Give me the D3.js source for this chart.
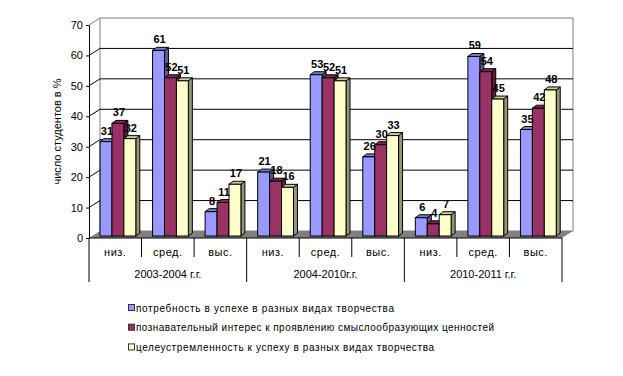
<!DOCTYPE html>
<html>
<head>
<meta charset="utf-8">
<script src="https://cdn.jsdelivr.net/npm/d3@7"></script>
<style>
  body { margin: 0; background: #fff; }
  svg { display: block; font-family: Arial, "Liberation Sans", sans-serif; }
</style>
</head>
<body>
<div id="chart"></div>
<script>
// данные
const levels = ["низ.", "сред.", "выс."]
const periods = ["2003-2004 г.г.", "2004-2010г.г.", "2010-2011 г.г."]
const seriesNames = [
  "потребность в успехе в разных видах творчества",
  "познавательный интерес к проявлению смыслообразующих ценностей",
  "целеустремленность к успеху в разных видах творчества",
]
const need = [31, 61, 8, 21, 53, 26, 6, 59, 35]
const interest = [37, 52, 11, 18, 52, 30, 4, 54, 42]
const purpose = [32, 51, 17, 16, 51, 33, 7, 45, 48]
const yTicks = [0, 10, 20, 30, 40, 50, 60, 70]

const series = [need, interest, purpose]
const colors = ["#9999ff", "#993366", "#ffffcc"]
const legendWidths = [258, 358, 298]  // ширина подписей легенды как в Excel

const width = 623, height = 376
const wallDx = 11, wallDy = -7   // глубина стенок
const barDx = 4, barDy = -3      // глубина столбиков
const barShiftY = -2

const svg = d3.select("#chart").append("svg")
  .attr("width", width)
  .attr("height", height)

const cats = d3.range(periods.length * levels.length)

const x = d3.scaleBand().domain(cats).range([89, 562])
const y = d3.scaleLinear().domain([0, 70]).range([238, 25])
const xs = d3.scaleBand().domain(d3.range(series.length)).range([11, 11 + 35.8])

// стенки
const x0 = x.range()[0], x1 = x.range()[1]
svg.append("polygon")
  .attr("points", [[x0, y(0)], [x0 + wallDx, y(0) + wallDy], [x1 + wallDx, y(0) + wallDy], [x1, y(0)]].join(" "))
  .attr("fill", "#808080")

svg.append("rect")
  .attr("x", x0 + wallDx).attr("y", y(70) + wallDy)
  .attr("width", x1 - x0).attr("height", y(0) - y(70))
  .attr("fill", "none").attr("stroke", "#808080")
svg.append("line")
  .attr("x1", x0).attr("y1", y(70)).attr("x2", x0 + wallDx).attr("y2", y(70) + wallDy)
  .attr("stroke", "#808080")

const grid = svg.append("g")
grid.selectAll("path")
  .data(yTicks.filter(d => d > 0 && d < 70))
  .join("path")
    .attr("d", d => `M${x0},${y(d)}L${x0 + wallDx},${y(d) + wallDy}L${x1 + wallDx},${y(d) + wallDy}`)
    .attr("fill", "none")
    .attr("stroke", "#000")

// столбики
const bars = svg.append("g")
cats.forEach(c => {
  series.forEach((s, i) => {
    const bx = x(c) + xs(i)
    const w = xs.bandwidth()
    const top = y(s[c]) + barShiftY
    const base = y(0) + barShiftY
    const col = d3.color(colors[i])
    const g = bars.append("g").attr("stroke", "#000").attr("stroke-width", 1)
    g.append("polygon")
      .attr("points", [[bx + w, top], [bx + w + barDx, top + barDy], [bx + w + barDx, base + barDy], [bx + w, base]].join(" "))
      .attr("fill", col.darker(1.5))
    g.append("polygon")
      .attr("points", [[bx, top], [bx + barDx, top + barDy], [bx + w + barDx, top + barDy], [bx + w, top]].join(" "))
      .attr("fill", col.darker(0.6))
    g.append("rect")
      .attr("x", bx).attr("y", top)
      .attr("width", w).attr("height", base - top)
      .attr("fill", col)
  })
})

// подписи значений
const labels = svg.append("g")
  .attr("font-size", 11)
  .attr("font-weight", "bold")
  .attr("text-anchor", "middle")
cats.forEach(c => {
  series.forEach((s, i) => {
    labels.append("text")
      .attr("x", x(c) + xs(i) + xs.bandwidth() / 2 + 1)
      .attr("y", y(s[c]) + barShiftY + barDy - 4)
      .text(s[c])
  })
})

// ось Y
const yAxis = svg.append("g")
  .attr("transform", `translate(${x0},0)`)
  .call(d3.axisLeft(y).tickValues(yTicks).tickSize(3).tickSizeOuter(0).tickPadding(3))
yAxis.selectAll("text").attr("font-size", 11).attr("font-family", "Arial").attr("fill", "#000")
yAxis.selectAll("line, path").attr("stroke", "#000")

svg.append("text")
  .attr("transform", `translate(61,${(y(0) + y(70)) / 2}) rotate(-90)`)
  .attr("text-anchor", "middle")
  .attr("font-size", 11)
  .text("число студентов в %")

// ось категорий
const cAxis = svg.append("g").attr("stroke", "#000")
cAxis.append("line")
  .attr("x1", x0).attr("x2", x1).attr("y1", y(0)).attr("y2", y(0))
cAxis.selectAll(".div")
  .data(d3.range(cats.length + 1))
  .join("line")
    .attr("x1", d => x0 + d * x.bandwidth())
    .attr("x2", d => x0 + d * x.bandwidth())
    .attr("y1", y(0))
    .attr("y2", d => d % levels.length === 0 ? 282 : 257)

svg.append("g")
  .attr("font-size", 11)
  .attr("text-anchor", "middle")
  .attr("letter-spacing", 0.5)
  .selectAll("text")
  .data(cats)
  .join("text")
    .attr("x", d => x(d) + x.bandwidth() / 2)
    .attr("y", 256)
    .text(d => levels[d % levels.length])

svg.append("g")
  .attr("font-size", 11)
  .attr("text-anchor", "middle")
  .selectAll("text")
  .data(periods)
  .join("text")
    .attr("x", (d, i) => x0 + (i + 0.5) * levels.length * x.bandwidth())
    .attr("y", 278)
    .text(d => d)

// легенда
const legend = svg.append("g").attr("font-size", 10)
seriesNames.forEach((name, i) => {
  const ly = 308 + i * 19.7
  legend.append("rect")
    .attr("x", 128.5).attr("y", ly - 3.5)
    .attr("width", 6).attr("height", 6)
    .attr("fill", colors[i])
    .attr("stroke", "#333")
  legend.append("text")
    .attr("x", 136).attr("y", ly + 3.5)
    .attr("textLength", legendWidths[i])
    .attr("lengthAdjust", "spacing")
    .text(name)
})
</script>
</body>
</html>
